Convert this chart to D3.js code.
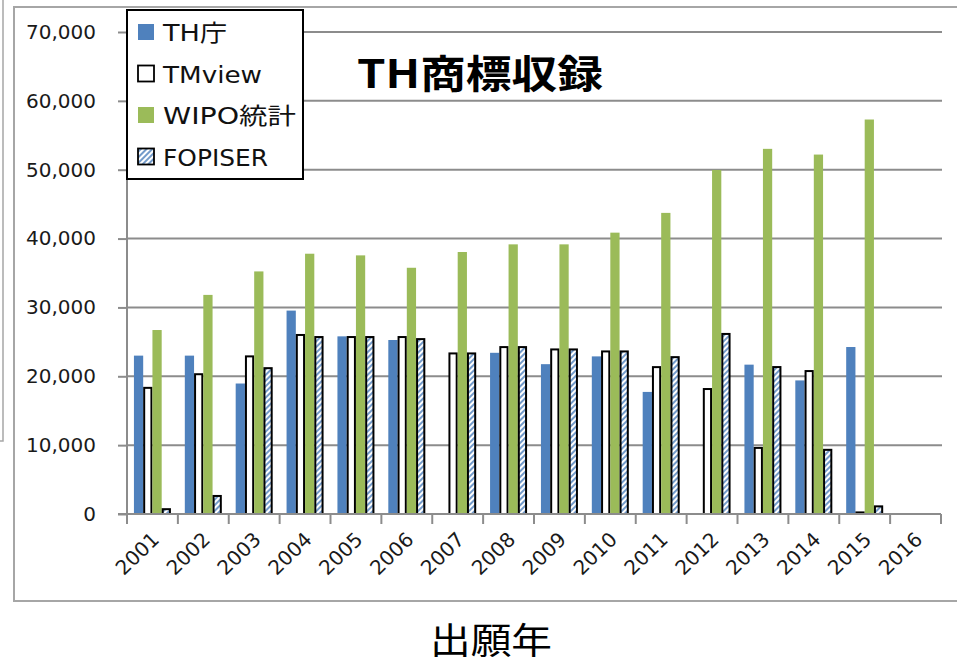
<!DOCTYPE html>
<html><head><meta charset="utf-8">
<script src="https://cdn.jsdelivr.net/npm/d3@7"></script>
<style>html,body{margin:0;padding:0;background:#fff;}svg{display:block;}</style>
</head><body>
<script>
const years = ["2001","2002","2003","2004","2005","2006","2007","2008","2009","2010","2011","2012","2013","2014","2015","2016"];
const seriesNames = ["TH庁","TMview","WIPO統計","FOPISER"];
const thCho   = [23000,23000,18950,29540,25800,25270,null,23410,21760,22890,17730,null,21690,19400,24250,null];
const tmview  = [18320,20300,22890,26000,25700,25700,23320,24240,23900,23610,21330,18150,9600,20760,230,null];
const wipo    = [26720,31820,35230,37800,37560,35760,38050,39160,39160,40860,43730,49970,53030,52200,57290,null];
const fopiser = [700,2620,21180,25700,25700,25400,23320,24240,23900,23610,22780,26150,21340,9320,1110,null];
const yTicks  = [0,10000,20000,30000,40000,50000,60000,70000];
const titleText = "TH商標収録";
const xTitle = "出願年";

const W = 957, H = 663;
const svg = d3.select("body").append("svg").attr("width", W).attr("height", H);
const defs = svg.append("defs");
const pat = defs.append("pattern").attr("id","hatch").attr("patternUnits","userSpaceOnUse")
  .attr("width",4).attr("height",4).attr("patternTransform","rotate(-45)");
pat.append("rect").attr("width",4).attr("height",4).attr("fill","#fff");
pat.append("line").attr("x1",0).attr("y1",1).attr("x2",4).attr("y2",1).attr("stroke","#4f81bd").attr("stroke-width",1.6);

// frames
svg.append("path").attr("d","M3,0V441H0").attr("fill","none").attr("stroke","#a6a6a6").attr("stroke-width",1.5);
svg.append("path").attr("d","M960,7H14V601H960").attr("fill","none").attr("stroke","#a6a6a6").attr("stroke-width",2);

const x = d3.scaleBand().domain(years).range([127, 941]).padding(0);
const y = d3.scaleLinear().domain([0,70000]).range([514, 32]);
const bw = x.bandwidth()/5.5;
const xs = d3.scaleBand().domain(seriesNames).range([0.75*bw, 4.75*bw]).padding(0);

// gridlines
svg.append("g").selectAll("line").data(yTicks.slice(1)).join("line")
  .attr("x1",127).attr("x2",942).attr("y1",d=>y(d)).attr("y2",d=>y(d))
  .attr("stroke","#8c8c8c").attr("stroke-width",2);

// y axis
const yAxis = svg.append("g").attr("transform","translate(127,0)")
  .call(d3.axisLeft(y).tickValues(yTicks).tickFormat(d3.format(",")).tickSize(9).tickPadding(22));
yAxis.select(".domain").attr("stroke","#8c8c8c").attr("stroke-width",2).attr("d","M0,32V514");
yAxis.selectAll(".tick line").attr("stroke","#8c8c8c").attr("stroke-width",2);
yAxis.selectAll("text").attr("font-family","DejaVu Sans").attr("font-size",20).attr("fill","#1a1a1a");

// bars
const data = [thCho, tmview, wipo, fopiser];
const fills = ["#4f81bd","#ffffff","#9bbb59","url(#hatch)"];
const strokes = [null,"#000",null,"#000"];
data.forEach((arr,si)=>{
  const g = svg.append("g");
  g.selectAll("rect").data(years.map((yr,i)=>({yr,v:arr[i]})).filter(d=>d.v!=null)).join("rect")
    .attr("x",d=>x(d.yr)+xs(seriesNames[si])+(strokes[si]?1:0))
    .attr("width",xs.bandwidth()-(strokes[si]?2:0))
    .attr("y",d=>y(d.v))
    .attr("height",d=>y(0)-y(d.v))
    .attr("fill",fills[si])
    .attr("stroke",strokes[si]||"none")
    .attr("stroke-width",2);
});

// x axis
const xAxis = svg.append("g").attr("transform","translate(0,514)")
  .call(d3.axisBottom(x).tickSize(0).tickFormat(""));
xAxis.select(".domain").attr("stroke","#8c8c8c").attr("stroke-width",2).attr("d","M118,0H941");
svg.append("g").selectAll("line").data(years.concat(["end"])).join("line")
  .attr("x1",(d,i)=>127+i*x.bandwidth()).attr("x2",(d,i)=>127+i*x.bandwidth())
  .attr("y1",514).attr("y2",524).attr("stroke","#8c8c8c").attr("stroke-width",2);
svg.append("g").selectAll("text").data(years).join("text")
  .attr("transform",d=>`translate(${x(d)+x.bandwidth()/2+8},${541}) rotate(-44)`)
  .attr("text-anchor","end").attr("font-family","DejaVu Sans").attr("font-size",20).attr("fill","#1a1a1a")
  .text(d=>d);

// title
svg.append("text").attr("x",357).attr("y",88).attr("font-family","Noto Sans CJK JP").attr("font-weight","bold")
  .attr("font-size",39).attr("textLength",246).attr("lengthAdjust","spacingAndGlyphs").attr("fill","#000").text(titleText);

// x title
svg.append("text").attr("x",430).attr("y",654).attr("font-family","Noto Sans CJK JP")
  .attr("font-size",36).attr("textLength",122).attr("lengthAdjust","spacingAndGlyphs").attr("fill","#000").text(xTitle);

// legend
const lg = svg.append("g");
lg.append("rect").attr("x",127).attr("y",10).attr("width",176).attr("height",169).attr("fill","#fff").attr("stroke","#000").attr("stroke-width",2);
const legW = [64,99,133,105];
const legSw = [{f:"#4f81bd",s:null},{f:"#fff",s:"#000"},{f:"#9bbb59",s:null},{f:"url(#hatch)",s:"#000"}];
seriesNames.forEach((n,i)=>{
  const cy = 32 + i*41.5;
  lg.append("rect").attr("x",138).attr("y",cy-8).attr("width",16).attr("height",16)
    .attr("fill",legSw[i].f).attr("stroke",legSw[i].s||"none").attr("stroke-width",1.8);
  lg.append("text").attr("x",163).attr("y",cy+9).attr("font-family","DejaVu Sans, Noto Sans CJK JP")
    .attr("font-size",23).attr("textLength",legW[i]).attr("lengthAdjust","spacingAndGlyphs").attr("fill","#111").text(n);
});
</script>
</body></html>
